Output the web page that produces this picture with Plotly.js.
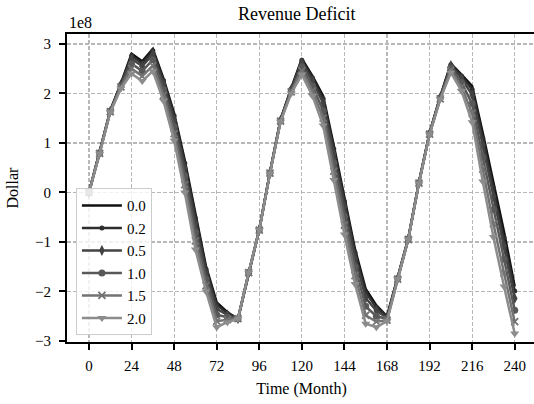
<!DOCTYPE html>
<html>
<head>
<meta charset="utf-8">
<script src="https://cdn.plot.ly/plotly-3.0.1.min.js"></script>
<style>
html,body{margin:0;padding:0;overflow:hidden;background:#fff;}
#chart{width:538px;height:404px;}
</style>
</head>
<body>
<div id="chart"></div>
<script>
// Months (x values)
const months = [0,6,12,18,24,30,36,42,48,54,60,66,72,78,84,90,96,102,108,114,120,126,132,138,144,150,156,162,168,174,180,186,192,198,204,210,216,222,228,234,240];

// Revenue deficit, in units of 1e8 dollars
const s00 = [0,0.8,1.65,2.2,2.8,2.65,2.9,2.3,1.6,0.65,-0.45,-1.5,-2.22,-2.42,-2.55,-1.62,-0.75,0.4,1.47,2.1,2.7,2.35,1.95,0.95,-0.1,-1.15,-1.95,-2.28,-2.5,-1.73,-0.93,0.2,1.2,1.93,2.6,2.38,2.15,1.2,0.2,-0.8,-1.9];
const s02 = [0,0.8,1.65,2.19,2.76,2.61,2.86,2.26,1.55,0.59,-0.52,-1.55,-2.27,-2.44,-2.55,-1.62,-0.75,0.4,1.47,2.09,2.67,2.31,1.89,0.88,-0.18,-1.22,-2.02,-2.32,-2.51,-1.73,-0.93,0.2,1.2,1.93,2.58,2.35,2.08,1.1,0.09,-0.91,-1.99];
const s05 = [0,0.8,1.64,2.18,2.7,2.55,2.79,2.19,1.46,0.49,-0.63,-1.63,-2.35,-2.47,-2.55,-1.62,-0.75,0.4,1.46,2.08,2.62,2.25,1.8,0.78,-0.29,-1.33,-2.13,-2.39,-2.53,-1.74,-0.94,0.2,1.19,1.92,2.56,2.3,1.97,0.96,-0.08,-1.08,-2.14];
const s10 = [0,0.79,1.64,2.15,2.6,2.45,2.68,2.08,1.33,0.33,-0.8,-1.75,-2.47,-2.52,-2.55,-1.62,-0.76,0.39,1.45,2.05,2.54,2.15,1.65,0.6,-0.48,-1.5,-2.3,-2.5,-2.55,-1.74,-0.94,0.19,1.19,1.91,2.51,2.22,1.79,0.71,-0.35,-1.35,-2.38];
const s15 = [0,0.79,1.63,2.13,2.5,2.35,2.56,1.96,1.19,0.16,-0.98,-1.88,-2.6,-2.57,-2.55,-1.62,-0.76,0.39,1.44,2.03,2.46,2.05,1.5,0.43,-0.66,-1.68,-2.48,-2.61,-2.58,-1.75,-0.95,0.19,1.18,1.89,2.47,2.13,1.6,0.47,-0.63,-1.63,-2.61];
const s20 = [0,0.78,1.62,2.1,2.4,2.25,2.45,1.85,1.05,0.0,-1.15,-2.0,-2.72,-2.62,-2.55,-1.62,-0.76,0.38,1.43,2.0,2.38,1.95,1.35,0.25,-0.85,-1.85,-2.65,-2.72,-2.6,-1.75,-0.95,0.18,1.17,1.88,2.42,2.05,1.42,0.22,-0.9,-1.9,-2.85];

const seriesNames = ['0.0','0.2','0.5','1.0','1.5','2.0'];
const seriesData = [s00,s02,s05,s10,s15,s20];
const xTicks = [0,24,48,72,96,120,144,168,192,216,240];
const yTicks = [-3,-2,-1,0,1,2,3];

const colors = ['#111111','#2e2e2e','#434343','#585858','#727272','#8c8c8c'];
const symbols = ['circle','circle','diamond-tall','circle','x-thin','triangle-down'];
const sizes = [0,5,8,7,7,8];

const traces = seriesData.map((ys,i)=>({
  x: months, y: ys, name: seriesNames[i], type:'scatter',
  mode: i===0 ? 'lines' : 'lines+markers',
  line:{color:colors[i], width:2.5},
  marker:{symbol:symbols[i], size:sizes[i], color:colors[i], line:{color:colors[i], width: symbols[i]==='x-thin'?1.8:0}}
}));

const ff = '"Liberation Serif", "DejaVu Serif", serif';

const layout = {
  width:538, height:404,
  margin:{l:67, r:2, t:34, b:62},
  paper_bgcolor:'#fff', plot_bgcolor:'#fff',
  font:{family:ff, color:'#000', size:15},
  showlegend:true,
  title:{text:'Revenue Deficit', font:{family:ff, size:18, color:'#000'}, xref:'paper', x:0.49, xanchor:'center', yref:'container', y:0.965, yanchor:'middle'},
  xaxis:{
    range:[-12.4,252], tickvals:xTicks, ticktext:xTicks.map(String),
    showline:true, mirror:true, linecolor:'#000', linewidth:2,
    ticks:'outside', ticklen:6, tickwidth:2, tickcolor:'#000', ticklabelstandoff:3,
    showgrid:true, gridcolor:'#b8b8b8', griddash:'4px,2px', gridwidth:1.2,
    zeroline:false, tickfont:{family:ff,size:15,color:'#000'},
    title:{text:'Time (Month)', font:{family:ff,size:16,color:'#000'}, standoff:10}
  },
  yaxis:{
    range:[-3.02,3.2], tickvals:yTicks, ticktext:yTicks.map(v=>v<0?'\u2212'+Math.abs(v):String(v)),
    showline:true, mirror:true, linecolor:'#000', linewidth:2,
    ticks:'outside', ticklen:6, tickwidth:2, tickcolor:'#000', ticklabelstandoff:5,
    showgrid:true, gridcolor:'#b8b8b8', griddash:'4px,2px', gridwidth:1.2,
    zeroline:false, tickfont:{family:ff,size:15,color:'#000'},
    title:{text:'Dollar', font:{family:ff,size:16,color:'#000'}, standoff:12}
  },
  legend:{
    x:0.019, y:0.022, xanchor:'left', yanchor:'bottom',
    bgcolor:'rgba(255,255,255,0.8)', bordercolor:'#cccccc', borderwidth:1,
    font:{family:ff,size:15,color:'#000'},
    tracegroupgap:0, itemwidth:40
  },
  annotations:[{
    text:'1e8', xref:'paper', yref:'paper', x:0, y:1, xanchor:'left', yanchor:'bottom',
    yshift:1, showarrow:false, font:{family:ff,size:16,color:'#000'}
  }]
};

Plotly.newPlot('chart', traces, layout, {displayModeBar:false, staticPlot:true});
</script>
</body>
</html>
